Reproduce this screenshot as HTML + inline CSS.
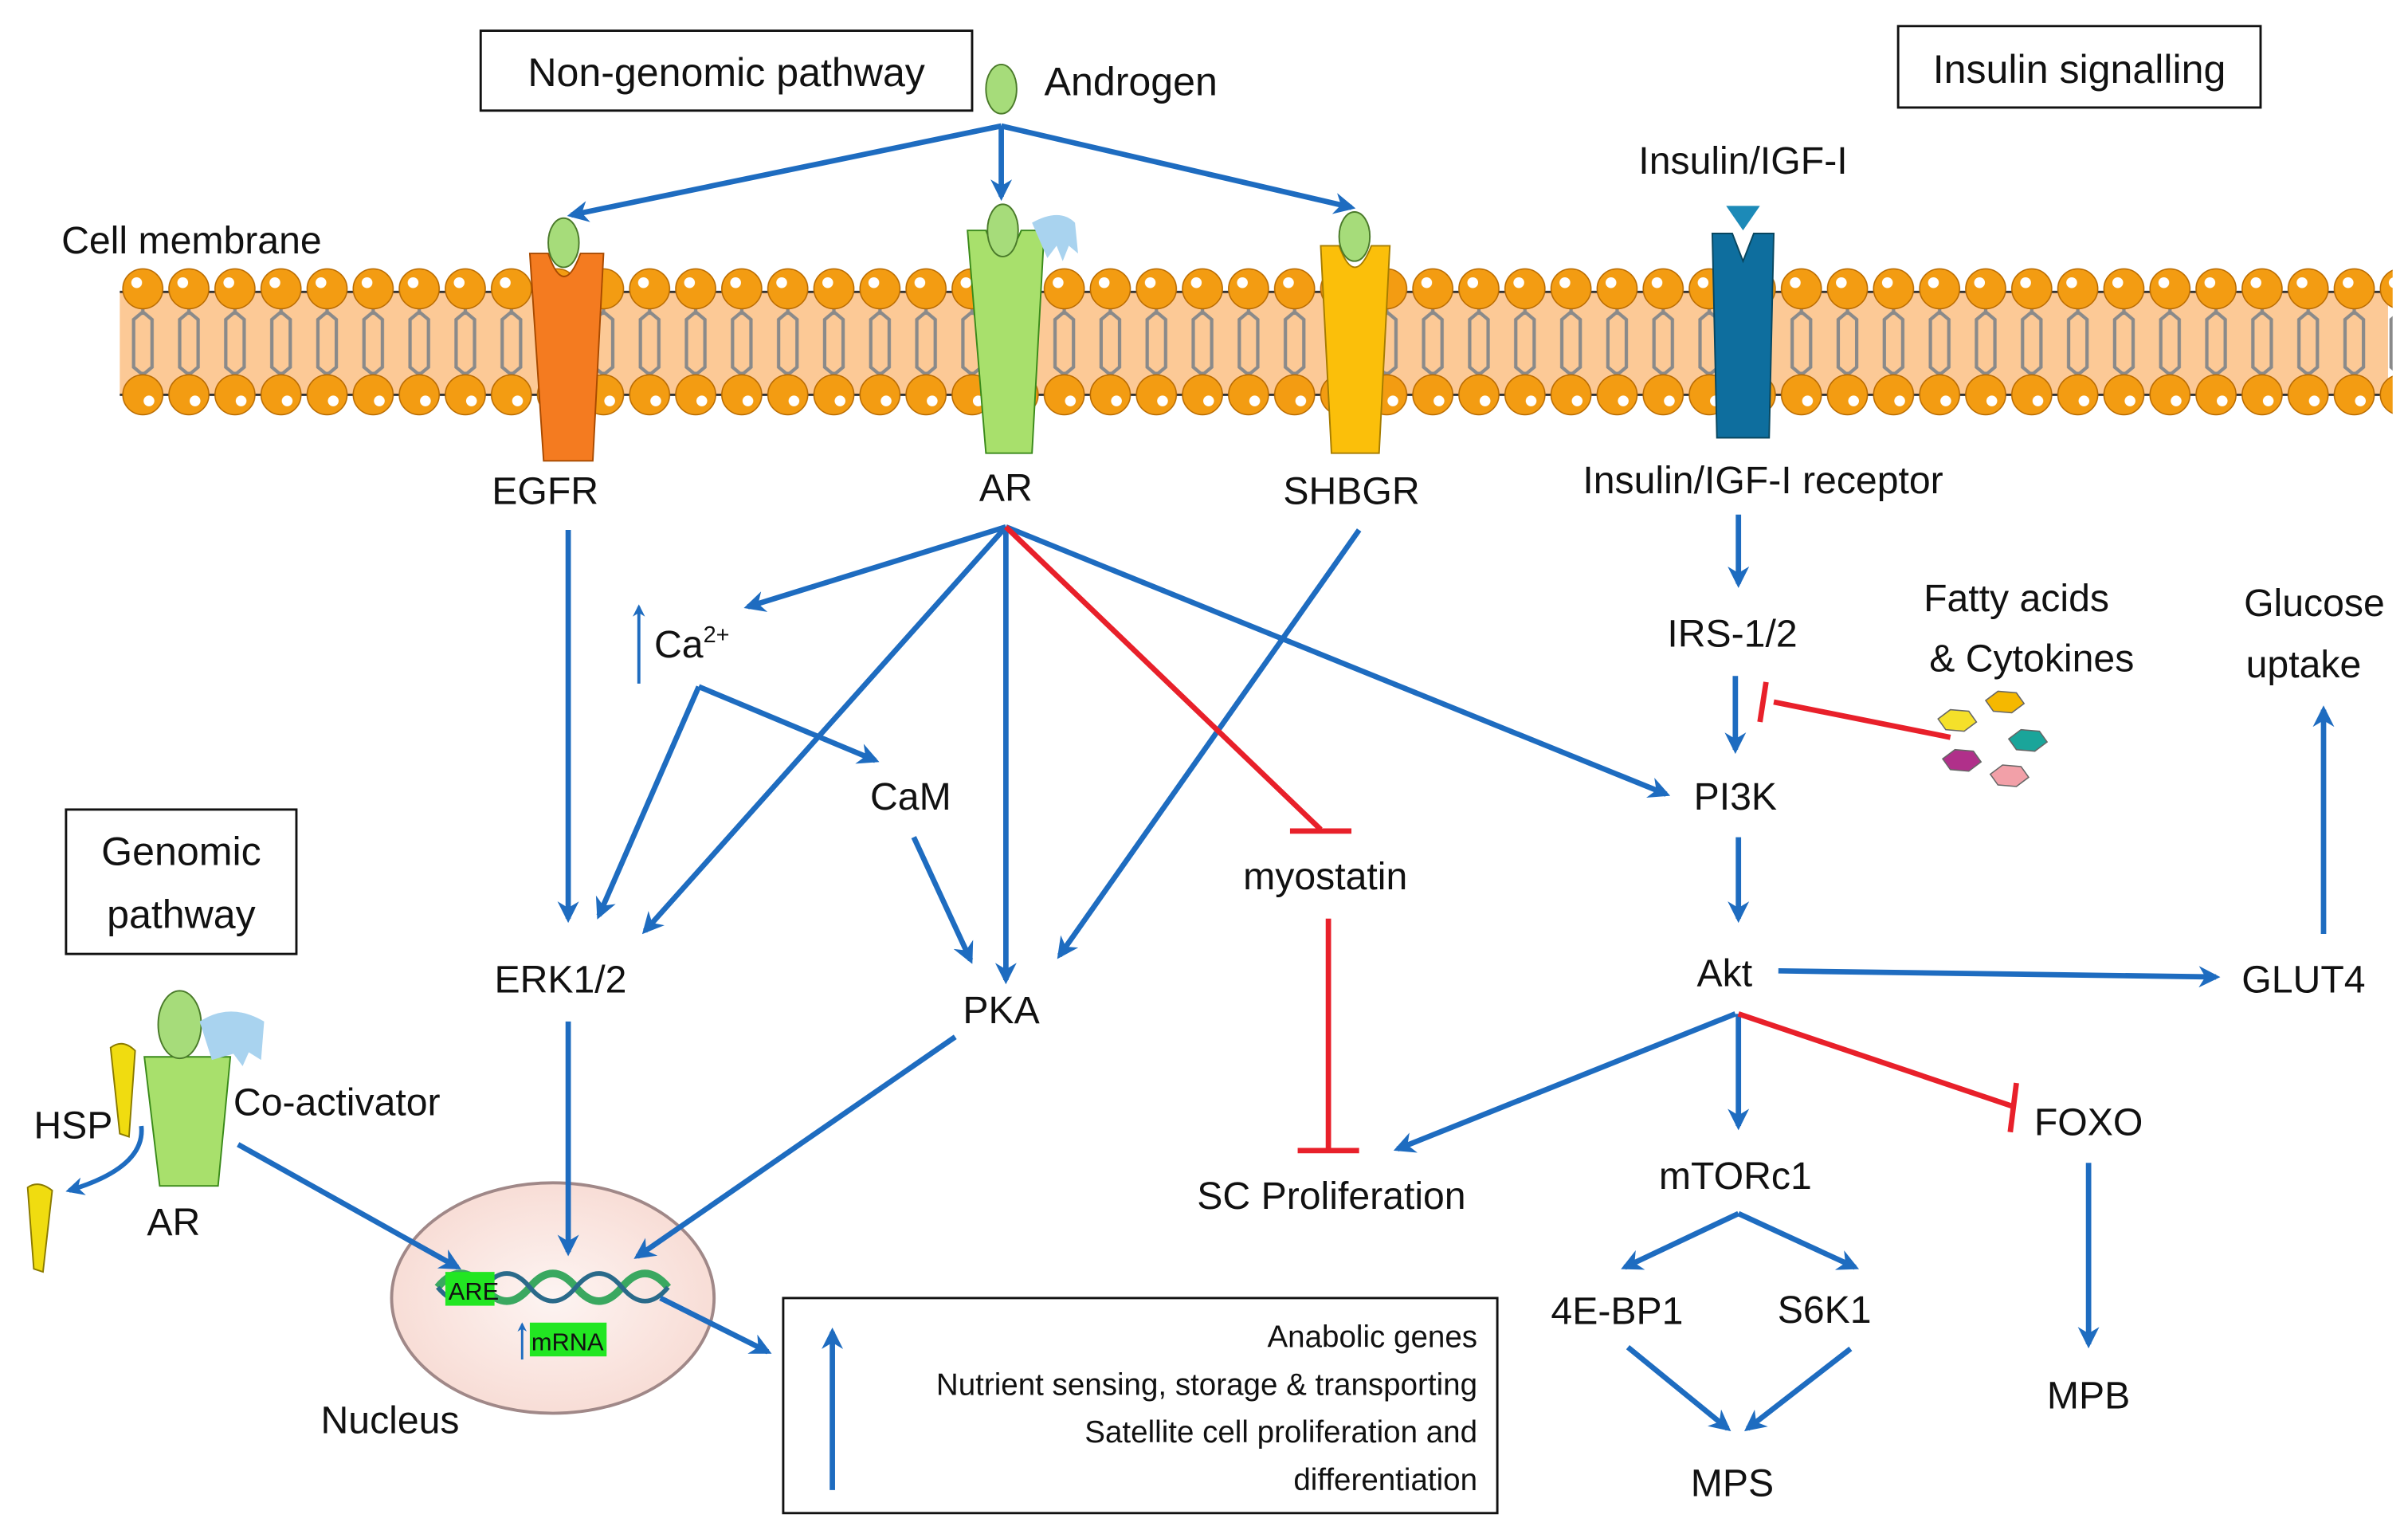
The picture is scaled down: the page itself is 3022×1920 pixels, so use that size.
<!DOCTYPE html>
<html><head><meta charset="utf-8"><style>
html,body{margin:0;padding:0;background:#fff}
svg{display:block}
text{font-family:"Liberation Sans",sans-serif;fill:#111}
</style></head><body>
<svg width="3022" height="1920" viewBox="0 0 1568 996" preserveAspectRatio="none" xmlns="http://www.w3.org/2000/svg">
<defs>
<marker id="ab" viewBox="0 0 10 10" refX="8" refY="5" markerWidth="4" markerHeight="4" orient="auto"><path d="M0,0 L10,5 L0,10 L3,5z" fill="#1e6cc0"/></marker>
<pattern id="lip" x="78" y="0" width="30" height="996" patternUnits="userSpaceOnUse">
<path d="M15,196 L15,205 M15,203 L9,208 L9,228 M15,203 L21,208 L21,228 M15,250 L15,242 M15,244 L9,239 L9,220 M15,244 L21,239 L21,220" stroke="#8a8a8a" stroke-width="2.2" fill="none"/>
<circle cx="15" cy="188" r="13" fill="#f39c12" stroke="#b86a00" stroke-width="0.8"/>
<circle cx="11" cy="184" r="3.5" fill="#fff"/>
<circle cx="15" cy="257" r="13" fill="#f39c12" stroke="#b86a00" stroke-width="0.8"/>
<circle cx="19" cy="261" r="3.5" fill="#fff"/>
</pattern>
<radialGradient id="nuc" cx="50%" cy="50%" r="50%"><stop offset="0" stop-color="#fdf4f2"/><stop offset="1" stop-color="#f8ddd6"/></radialGradient>
</defs>
<!-- membrane -->
<rect x="78" y="190" width="1477" height="67" fill="#fcc996"/>
<line x1="78" y1="190" x2="1555" y2="190" stroke="#333" stroke-width="1.5"/>
<line x1="78" y1="257" x2="1555" y2="257" stroke="#333" stroke-width="1.5"/>
<rect x="78" y="170" width="1480" height="105" fill="url(#lip)"/>

<!-- boxes -->
<rect x="313" y="20" width="320" height="52" fill="#fff" stroke="#111" stroke-width="1.5"/>
<text x="473" y="56" font-size="26" text-anchor="middle">Non-genomic pathway</text>
<rect x="1236" y="17" width="236" height="53" fill="#fff" stroke="#111" stroke-width="1.5"/>
<text x="1354" y="54" font-size="26" text-anchor="middle">Insulin signalling</text>
<rect x="43" y="527" width="150" height="94" fill="#fff" stroke="#111" stroke-width="1.5"/>
<text x="118" y="563" font-size="26" text-anchor="middle">Genomic</text>
<text x="118" y="604" font-size="26" text-anchor="middle">pathway</text>

<ellipse cx="652" cy="58" rx="10" ry="16" fill="#a6dc7a" stroke="#4a7a2a"/>
<text x="680" y="62" font-size="26">Androgen</text>
<text x="40" y="165" font-size="25">Cell membrane</text>

<!-- receptors -->
<path d="M345,165 L357,165 Q367,195 378,165 L393,165 L386,300 L354,300 Z" fill="#f47b20" stroke="#a84a00"/>
<ellipse cx="367" cy="158" rx="10" ry="16" fill="#a6dc7a" stroke="#4a7a2a"/>
<path d="M630,150 L642,150 Q653,180 665,150 L680,150 L672,295 L642,295 Z" fill="#a8e06c" stroke="#3a8a1a"/>
<ellipse cx="653" cy="150" rx="10" ry="17" fill="#a6dc7a" stroke="#4a7a2a"/>
<path d="M672,145 Q690,135 700,145 L702,165 L696,160 L692,170 L688,160 L682,168 Z" fill="#a9d3ef"/>
<path d="M860,160 L872,160 Q882,188 893,160 L905,160 L898,295 L867,295 Z" fill="#fbbf0a" stroke="#a67c00"/>
<ellipse cx="882" cy="154" rx="10" ry="16" fill="#a6dc7a" stroke="#4a7a2a"/>
<path d="M1115,152 L1128,152 L1135,170 L1142,152 L1155,152 L1152,285 L1118,285 Z" fill="#0e6e9e" stroke="#08465f"/>
<path d="M1124,134 L1146,134 L1135,150 Z" fill="#1c8ab8"/>

<text x="355" y="328" font-size="25" text-anchor="middle">EGFR</text>
<text x="655" y="326" font-size="25" text-anchor="middle">AR</text>
<text x="880" y="328" font-size="25" text-anchor="middle">SHBGR</text>
<text x="1135" y="113" font-size="25" text-anchor="middle">Insulin/IGF-I</text>
<text x="1148" y="321" font-size="25" text-anchor="middle">Insulin/IGF-I receptor</text>

<!-- nucleus (drawn before arrows) -->
<ellipse cx="360" cy="845" rx="105" ry="75" fill="url(#nuc)" stroke="#a08888" stroke-width="2"/>
<path d="M285,838 Q300,820 315,838 T345,838 T375,838 T405,838 T435,838" stroke="#3aa860" stroke-width="5" fill="none"/>
<path d="M285,838 Q300,856 315,838 T345,838 T375,838 T405,838 T435,838" stroke="#2a6a8a" stroke-width="3" fill="none"/>
<rect x="290" y="828" width="32" height="22" fill="#22e622"/>
<text x="292" y="846" font-size="16">ARE</text>
<rect x="345" y="861" width="50" height="22" fill="#22e622"/>
<text x="346" y="879" font-size="16">mRNA</text>
<line x1="340" y1="885" x2="340" y2="862" stroke="#1e6cc0" stroke-width="1.5" marker-end="url(#ab)"/>
<text x="254" y="933" font-size="25" text-anchor="middle">Nucleus</text>

<g stroke="#1e6cc0" stroke-width="3.5" fill="none" marker-end="url(#ab)">
<line x1="652" y1="82" x2="372" y2="140"/>
<line x1="652" y1="82" x2="652" y2="128"/>
<line x1="652" y1="82" x2="880" y2="135"/>
<line x1="370" y1="345" x2="370" y2="598"/>
<line x1="655" y1="343" x2="487" y2="395"/>
<line x1="655" y1="343" x2="420" y2="606"/>
<line x1="655" y1="343" x2="655" y2="638"/>
<line x1="655" y1="343" x2="1085" y2="517"/>
<polyline points="455,447 390,596"/>
<polyline points="455,447 570,495"/>
<line x1="595" y1="545" x2="632" y2="625"/>
<line x1="885" y1="345" x2="690" y2="622"/>
<line x1="370" y1="665" x2="370" y2="815"/>
<line x1="622" y1="675" x2="415" y2="818"/>
<line x1="155" y1="745" x2="298" y2="825"/>
<line x1="430" y1="845" x2="500" y2="880"/>
<line x1="1132" y1="335" x2="1132" y2="380"/>
<line x1="1130" y1="440" x2="1130" y2="488"/>
<line x1="1132" y1="545" x2="1132" y2="598"/>
<line x1="1158" y1="632" x2="1443" y2="636"/>
<line x1="1513" y1="608" x2="1513" y2="462"/>
<line x1="1130" y1="660" x2="910" y2="748"/>
<line x1="1132" y1="660" x2="1132" y2="733"/>
<line x1="1360" y1="757" x2="1360" y2="875"/>
<line x1="1132" y1="790" x2="1058" y2="825"/>
<line x1="1132" y1="790" x2="1208" y2="825"/>
<line x1="1060" y1="877" x2="1125" y2="930"/>
<line x1="1205" y1="878" x2="1138" y2="930"/>
</g>
<line x1="416" y1="445" x2="416" y2="395" stroke="#1e6cc0" stroke-width="2" marker-end="url(#ab)"/>

<g stroke="#e8202a" stroke-width="3.5" fill="none">
<line x1="655" y1="343" x2="860" y2="540"/><line x1="840" y1="541" x2="880" y2="541"/>
<line x1="865" y1="598" x2="865" y2="748"/><line x1="845" y1="749" x2="885" y2="749"/>
<line x1="1270" y1="480" x2="1155" y2="457"/><line x1="1150" y1="444" x2="1146" y2="470"/>
<line x1="1132" y1="660" x2="1310" y2="720"/><line x1="1313" y1="705" x2="1309" y2="737"/>
</g>

<text x="426" y="428" font-size="25">Ca<tspan font-size="15" dy="-10">2+</tspan></text>
<text x="593" y="527" font-size="25" text-anchor="middle">CaM</text>
<text x="652" y="666" font-size="25" text-anchor="middle">PKA</text>
<text x="365" y="646" font-size="25" text-anchor="middle">ERK1/2</text>
<text x="863" y="579" font-size="25" text-anchor="middle">myostatin</text>
<text x="867" y="787" font-size="25" text-anchor="middle">SC Proliferation</text>

<!-- genomic AR -->
<path d="M72,682 Q80,676 88,684 L84,740 L78,738 Z" fill="#f0dc10" stroke="#8a7a00"/>
<path d="M94,688 L150,688 L142,772 L104,772 Z" fill="#a8e06c" stroke="#3a8a1a"/>
<ellipse cx="117" cy="667" rx="14" ry="22" fill="#a6dc7a" stroke="#4a7a2a"/>
<path d="M130,665 Q150,652 172,665 L170,690 L162,685 L158,694 L152,686 L138,690 Z" fill="#a9d3ef"/>
<path d="M18,773 Q25,768 34,775 L28,828 L22,826 Z" fill="#f0dc10" stroke="#8a7a00"/>
<path d="M92,733 Q95,760 45,775" stroke="#1e6cc0" stroke-width="3" fill="none" marker-end="url(#ab)"/>
<text x="22" y="741" font-size="25">HSP</text>
<text x="113" y="804" font-size="25" text-anchor="middle">AR</text>
<text x="152" y="726" font-size="25">Co-activator</text>

<rect x="510" y="845" width="465" height="140" fill="#fff" stroke="#111" stroke-width="1.5"/>
<line x1="542" y1="970" x2="542" y2="867" stroke="#1e6cc0" stroke-width="3.5" marker-end="url(#ab)"/>
<g font-size="20" text-anchor="end">
<text x="962" y="877">Anabolic genes</text>
<text x="962" y="908">Nutrient sensing, storage &amp; transporting</text>
<text x="962" y="939">Satellite cell proliferation and</text>
<text x="962" y="970">differentiation</text>
</g>

<!-- insulin side -->
<text x="1128" y="421" font-size="25" text-anchor="middle">IRS-1/2</text>
<text x="1130" y="527" font-size="25" text-anchor="middle">PI3K</text>
<text x="1123" y="642" font-size="25" text-anchor="middle">Akt</text>
<text x="1500" y="646" font-size="25" text-anchor="middle">GLUT4</text>
<text x="1507" y="401" font-size="25" text-anchor="middle">Glucose</text>
<text x="1500" y="441" font-size="25" text-anchor="middle">uptake</text>
<text x="1313" y="398" font-size="25" text-anchor="middle">Fatty acids</text>
<text x="1323" y="437" font-size="25" text-anchor="middle">&amp; Cytokines</text>
<g stroke="#666" stroke-width="0.8">
<polygon points="1262,468 1270,462 1282,463 1287,470 1279,476 1267,475" fill="#f5e02a"/>
<polygon points="1293,456 1301,450 1313,451 1318,458 1310,464 1298,463" fill="#f5b800"/>
<polygon points="1308,481 1316,475 1328,476 1333,483 1325,489 1313,488" fill="#1aa59a"/>
<polygon points="1265,494 1273,488 1285,489 1290,496 1282,502 1270,501" fill="#b0308a"/>
<polygon points="1296,504 1304,498 1316,499 1321,506 1313,512 1301,511" fill="#f2a0a8"/>
</g>
<text x="1360" y="739" font-size="25" text-anchor="middle">FOXO</text>
<text x="1130" y="774" font-size="25" text-anchor="middle">mTORc1</text>
<text x="1053" y="862" font-size="25" text-anchor="middle">4E-BP1</text>
<text x="1188" y="861" font-size="25" text-anchor="middle">S6K1</text>
<text x="1128" y="974" font-size="25" text-anchor="middle">MPS</text>
<text x="1360" y="917" font-size="25" text-anchor="middle">MPB</text>
</svg>
</body></html>
